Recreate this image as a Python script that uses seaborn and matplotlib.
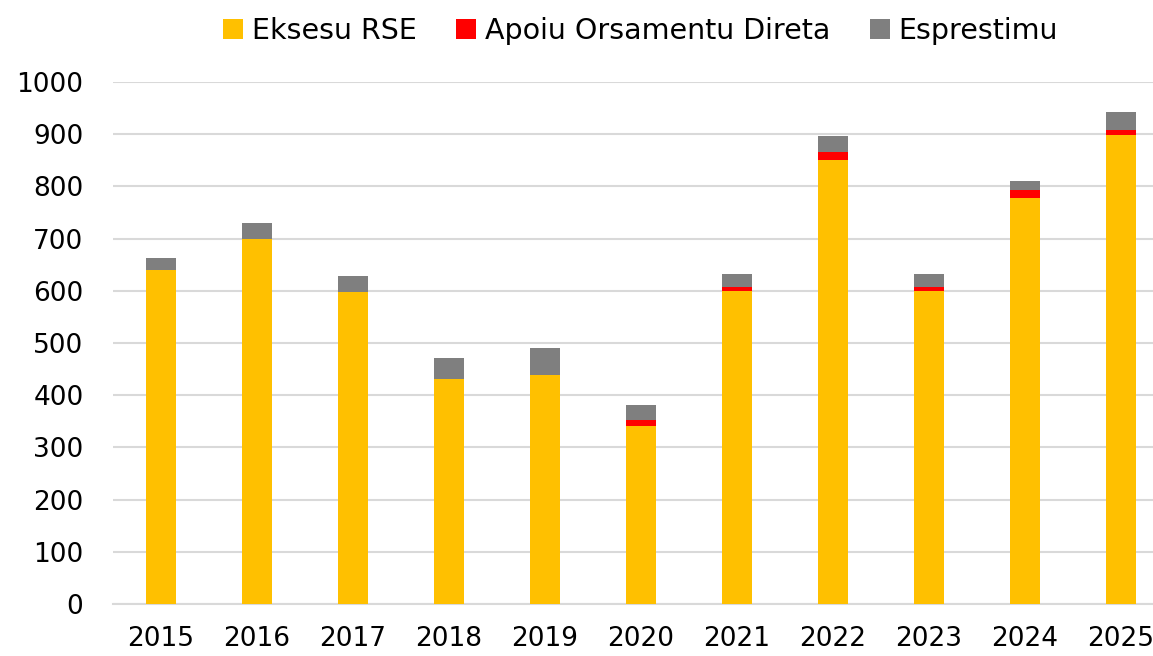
import pandas as pd
import matplotlib.pyplot as plt
import seaborn as sns
from matplotlib.patches import Patch

# Data
years = ['2015', '2016', '2017', '2018', '2019', '2020', '2021', '2022', '2023', '2024', '2025']
eksesu_rse = [640, 700, 597, 431, 439, 341, 600, 851, 600, 778, 899]
apoiu_orsamentu = [0, 0, 0, 0, 0, 11, 8, 14, 7, 16, 10]
esprestimu = [23, 30, 31, 40, 51, 29, 24, 32, 25, 16, 34]

series_names = ['Eksesu RSE', 'Apoiu Orsamentu Direta', 'Esprestimu']
colors = ['#FFC000', '#FF0000', '#7F7F7F']

sns.set_theme(style='white')
plt.rcParams['font.family'] = ['DejaVu Sans']
plt.rcParams['text.color'] = 'black'

df = pd.DataFrame({
    'year': years,
    'rse': eksesu_rse,
    'apoiu': apoiu_orsamentu,
    'esprestimu': esprestimu,
})
df['lvl1'] = df['rse']
df['lvl2'] = df['lvl1'] + df['apoiu']
df['lvl3'] = df['lvl2'] + df['esprestimu']

fig = plt.figure(figsize=(11.53, 6.56), dpi=100)
ax = fig.add_axes([0.0977, 0.0793, 0.916, 0.7957])

# stacked bars: draw cumulative totals from top level down
for col, color in zip(['lvl3', 'lvl2', 'lvl1'], colors[::-1]):
    sns.barplot(data=df, x='year', y=col, color=color, width=0.3125,
                saturation=1, linewidth=0, ax=ax, zorder=3)

ax.set_ylim(0, 1000)
ax.set_xlim(-0.5, len(years) - 0.5)
ax.set_yticks(range(0, 1001, 100))
ax.yaxis.grid(True, color='#D9D9D9', linewidth=1.5, zorder=0)
ax.set_axisbelow(True)
ax.set_xlabel('')
ax.set_ylabel('')
for side in ['top', 'right', 'left']:
    ax.spines[side].set_visible(False)
ax.spines['bottom'].set_color('#D9D9D9')
ax.spines['bottom'].set_linewidth(1.5)
ax.tick_params(axis='y', length=0, pad=21, labelsize=19, labelcolor='black')
ax.tick_params(axis='x', length=0, pad=16, labelsize=19, labelcolor='black')

handles = [Patch(facecolor=c, edgecolor='none') for c in colors]
ax.legend(handles, series_names, loc='lower center', bbox_to_anchor=(0.5, 1.05),
          ncol=3, frameon=False, fontsize=20.5, handlelength=0.7, handleheight=0.7,
          handletextpad=0.3, columnspacing=1.4, borderaxespad=0, labelcolor='black')

fig.savefig('out.png', dpi=100)
